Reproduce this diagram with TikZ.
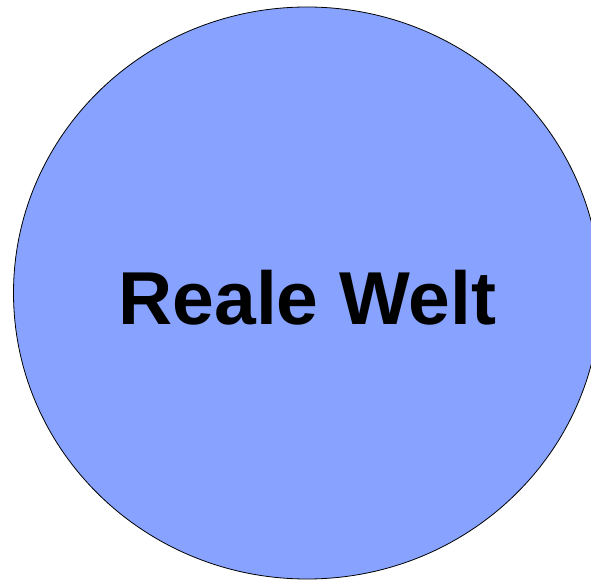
\documentclass[tikz,border=0pt]{standalone}
\usepackage{fontspec}
\setmainfont{Liberation Sans}
\usepackage{tikz}
\usetikzlibrary{shapes, positioning}
\definecolor{weltblue}{RGB}{135,163,255}

\begin{document}
\begin{tikzpicture}[
			x=1pt, y=1pt,
			welt/.style={ellipse, draw, thick, fill=weltblue, minimum width=587pt, minimum height=572pt, inner sep=0pt},
			weltlabel/.style={font=\fontsize{75}{80}\selectfont\bfseries}
			]
			\useasboundingbox (0,0) rectangle (591,581);
			\node[welt] (welt) at (307,288) {};
			\node[weltlabel] (label) at (307.5,283) {Reale Welt};
		\end{tikzpicture}
\end{document}
